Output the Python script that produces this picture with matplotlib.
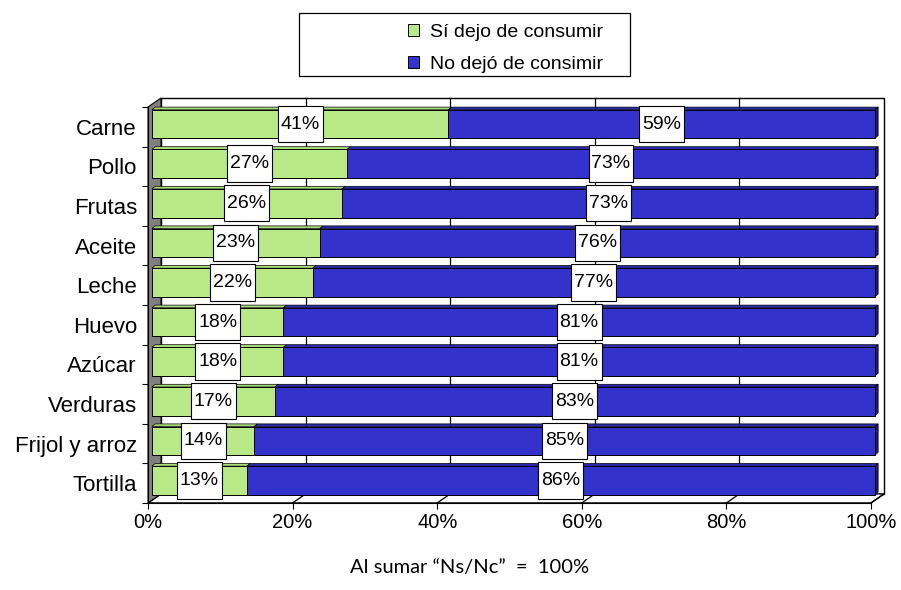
import numpy as np
import matplotlib
matplotlib.use("Agg")
import matplotlib.pyplot as plt
from matplotlib.patches import Polygon, Rectangle
from matplotlib.path import Path

# data
categories = ["Carne", "Pollo", "Frutas", "Aceite", "Leche", "Huevo",
              "Azúcar", "Verduras", "Frijol y arroz", "Tortilla"]
si_dejo = [41, 27, 26, 23, 22, 18, 18, 17, 14, 13]
no_dejo = [59, 73, 73, 76, 77, 81, 81, 83, 85, 86]
series_names = ["Sí dejo de consumir", "No dejó de consimir"]
x_ticks = [0, 0.2, 0.4, 0.6, 0.8, 1.0]
x_tick_labels = ["0%", "20%", "40%", "60%", "80%", "100%"]
note = "Al sumar \u201cNs/Nc\u201d  =  100%"

GREEN = "#B9E886"
GREEN_TOP = "#A8DA78"
BLUE = "#3333CC"
BLUE_TOP = "#2A2AB0"
BLUE_SIDE = "#1E1E78"
WALL = "#808080"
EDGE = "black"

plt.rcParams["font.family"] = ["Liberation Sans", "DejaVu Sans"]


def label_box(x0, y0, width, height, mutation_size):
    # Excel style label frame: narrow at the sides, tall at top/bottom
    px = 0.15 * mutation_size
    py = 0.5 * mutation_size
    x0, x1 = x0 - px, x0 + width + px
    y0, y1 = y0 - py, y0 + height + py
    return Path([(x0, y0), (x1, y0), (x1, y1), (x0, y1), (x0, y0)],
                closed=True)


W, H = 901, 590
fig = plt.figure(figsize=(W / 100, H / 100), dpi=100)
ax = fig.add_axes([0.1322, 0.1375, 0.8666, 0.7047])
ax.set_xlim(-0.04, 1.04)
ax.set_ylim(9.65, -0.85)
ax.set_facecolor("none")

n = len(categories)
# depth of the fake 3D box (data units)
DX, DY = 0.018, -0.227
top, bottom = -0.5, n - 0.5

# back wall
ax.add_patch(Polygon([(DX, top + DY), (1 + DX, top + DY),
                      (1 + DX, bottom + DY), (DX, bottom + DY)],
                     closed=True, facecolor="white", edgecolor=EDGE,
                     linewidth=1.0, zorder=0))
for v in x_ticks[1:-1]:
    ax.plot([v + DX, v + DX], [top + DY, bottom + DY], color=EDGE,
            linewidth=0.9, zorder=0.5)

# floor
ax.add_patch(Polygon([(0, bottom), (1, bottom), (1 + DX, bottom + DY),
                      (DX, bottom + DY)], closed=True, facecolor="white",
                     edgecolor=EDGE, linewidth=1.0, zorder=0.6))
for v in x_ticks[1:]:
    ax.plot([v, v + DX], [bottom, bottom + DY], color=EDGE,
            linewidth=0.9, zorder=0.7)

# left wall
ax.add_patch(Polygon([(0, top), (DX, top + DY), (DX, bottom + DY),
                      (0, bottom)], closed=True, facecolor=WALL,
                     edgecolor=EDGE, linewidth=0.8, zorder=0.8))

# normalise to 100% like the stacked chart does
tot = np.array(si_dejo, float) + np.array(no_dejo, float)
g = np.array(si_dejo) / tot
b = np.array(no_dejo) / tot

ypos = np.arange(n)
bh = 0.72
ox, oy = 0.3 * DX, 0.3 * DY         # bars sit a bit into the box
bdx, bdy = 0.25 * DX, 0.3 * DY      # bar depth

bars_g = ax.barh(ypos + oy, g, left=ox, height=bh, color=GREEN,
                 edgecolor=EDGE, linewidth=0.7, zorder=3)
bars_b = ax.barh(ypos + oy, b, left=ox + g, height=bh, color=BLUE,
                 edgecolor=EDGE, linewidth=0.7, zorder=3)

for i in range(n):
    yt = ypos[i] + oy - bh / 2
    yb = ypos[i] + oy + bh / 2
    x0, x1, x2 = ox, ox + g[i], ox + g[i] + b[i]
    ax.add_patch(Polygon([(x0, yt), (x1, yt), (x1 + bdx, yt + bdy),
                          (x0 + bdx, yt + bdy)], closed=True,
                         facecolor=GREEN_TOP, edgecolor=EDGE,
                         linewidth=0.5, zorder=2.5))
    ax.add_patch(Polygon([(x1, yt), (x2, yt), (x2 + bdx, yt + bdy),
                          (x1 + bdx, yt + bdy)], closed=True,
                         facecolor=BLUE_TOP, edgecolor=EDGE,
                         linewidth=0.5, zorder=2.5))
    ax.add_patch(Polygon([(x2, yt), (x2, yb), (x2 + bdx, yb + bdy),
                          (x2 + bdx, yt + bdy)], closed=True,
                         facecolor=BLUE_SIDE, edgecolor=EDGE,
                         linewidth=0.5, zorder=2.5))

    box = dict(boxstyle=label_box, facecolor="white",
               edgecolor=EDGE, linewidth=0.8)
    ax.text(x0 + g[i] / 2, ypos[i] + oy, f"{si_dejo[i]}%", ha="center",
            va="center", fontsize=14, bbox=box, zorder=5)
    ax.text(x1 + b[i] / 2, ypos[i] + oy, f"{no_dejo[i]}%", ha="center",
            va="center", fontsize=14, bbox=box, zorder=5)

# front axes
for s in ["top", "right"]:
    ax.spines[s].set_visible(False)
ax.spines["left"].set_position(("data", 0))
ax.spines["left"].set_bounds(top, bottom)
ax.spines["bottom"].set_position(("data", bottom))
ax.spines["bottom"].set_bounds(0, 1)
ax.spines["left"].set_zorder(1)
ax.spines["bottom"].set_zorder(1)

ax.set_yticks(ypos)
ax.set_yticklabels(categories, fontsize=16)
ax.set_yticks(np.arange(top, bottom + 0.01, 1), minor=True)
ax.tick_params(axis="y", which="major", length=0, pad=8)
ax.tick_params(axis="y", which="minor", length=4, width=0.8,
               direction="out")
ax.set_xticks(x_ticks)
ax.set_xticklabels(x_tick_labels, fontsize=14.5)
ax.tick_params(axis="x", length=4.5, width=0.8, direction="out", pad=3)

# legend with its own wide box, as in the reference
fig.patches.append(Rectangle((299 / W, 1 - 76 / H), 331 / W, 63 / H,
                             transform=fig.transFigure, facecolor="white",
                             edgecolor=EDGE, linewidth=0.9, zorder=0))
fig.legend([bars_g, bars_b], series_names, loc="center left",
           bbox_to_anchor=(408 / W, 1 - 48.5 / H), frameon=False,
           fontsize=14, handlelength=0.55, handleheight=0.55,
           handletextpad=0.6, labelspacing=0.75, borderpad=0,
           borderaxespad=0)

fig.text(470 / W, 1 - 567 / H, note, ha="center", va="center",
         fontsize=14.5, family=["Lato", "DejaVu Sans"])

fig.savefig("out.png", dpi=100)
